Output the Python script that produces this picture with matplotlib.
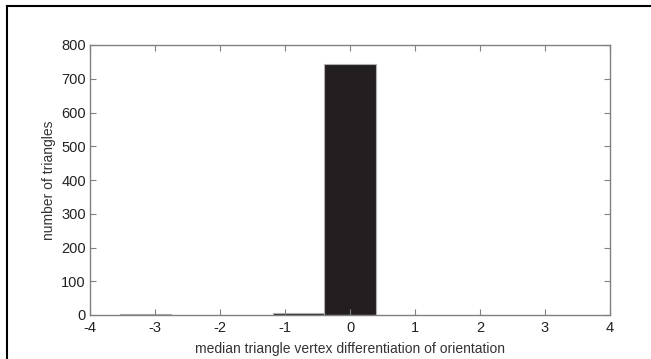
import numpy as np
import matplotlib.pyplot as plt

plt.rcParams['font.family'] = ['Liberation Sans', 'DejaVu Sans']
plt.rcParams['axes.unicode_minus'] = False

# histogram data (bin width pi/4)
bin_centers = [-np.pi, -np.pi / 4, 0.0]
counts = [3, 5, 745]
bin_width = np.pi / 4

x_ticks = [-4, -3, -2, -1, 0, 1, 2, 3, 4]
y_ticks = [0, 100, 200, 300, 400, 500, 600, 700, 800]

fig = plt.figure(figsize=(6.51, 3.59), dpi=100)
ax = fig.add_axes([90 / 651, (359 - 315) / 359, (610 - 90) / 651, (315 - 45) / 359])

ax.bar(bin_centers, counts, width=bin_width, color='#231f20', edgecolor='#b0b0b0', linewidth=0.8)

ax.set_xlim(-4, 4)
ax.set_ylim(0, 800)
ax.set_xticks(x_ticks)
ax.set_yticks(y_ticks)
ax.tick_params(direction='in', length=4, color='#808080', labelsize=10.5,
               top=True, right=True, labelcolor='#222222')
ax.tick_params(axis='x', pad=4)
ax.tick_params(axis='y', pad=3)
for s in ax.spines.values():
    s.set_color('#808080')
    s.set_linewidth(1.0)

ax.set_xlabel('median triangle vertex differentiation of orientation', fontsize=10, color='#333333', labelpad=5)
ax.set_ylabel('number of triangles', fontsize=10, color='#333333', labelpad=4)

# outer frame of the figure
fig.add_artist(plt.Line2D([7 / 651, 7 / 651], [0, 1 - 6 / 359], transform=fig.transFigure, color='black', lw=1.5))
fig.add_artist(plt.Line2D([7 / 651, 1], [1 - 6 / 359, 1 - 6 / 359], transform=fig.transFigure, color='black', lw=1.5))

fig.savefig('out.png', dpi=100)
